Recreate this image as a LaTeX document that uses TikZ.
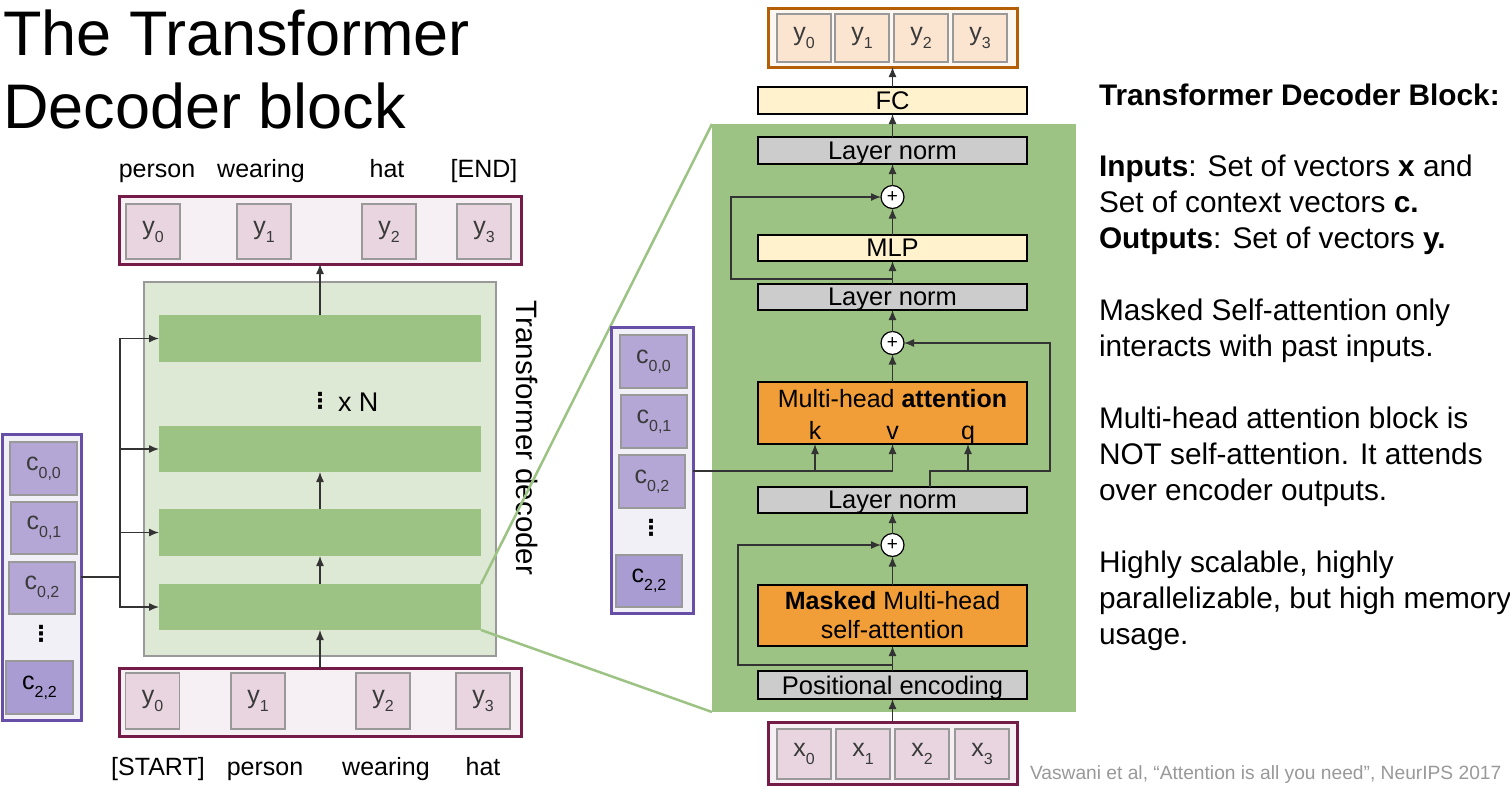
\documentclass[tikz,border=0pt]{standalone}
\usepackage{fontspec}
\setmainfont{Liberation Sans}
\newfontfamily\dvfont{DejaVu Sans}
\usetikzlibrary{arrows.meta}
\definecolor{maroon}{HTML}{741B47}
\definecolor{pinkfill}{HTML}{E8D5E0}
\definecolor{pinkbg}{HTML}{F6EFF3}
\definecolor{purp}{HTML}{674EA7}
\definecolor{purpfill}{HTML}{B4A7D6}
\definecolor{purpdark}{HTML}{A99CD2}
\definecolor{purpbg}{HTML}{F2F0F7}
\definecolor{brownor}{HTML}{B45F06}
\definecolor{orfill}{HTML}{FBE5D0}
\definecolor{orbg}{HTML}{FDF7F1}
\definecolor{grn}{HTML}{9CC383}
\definecolor{grnlight}{HTML}{DDE9D5}
\definecolor{yel}{HTML}{FFF2CC}
\definecolor{lngray}{HTML}{CCCCCC}
\definecolor{attor}{HTML}{F19E38}
\definecolor{boxgray}{HTML}{999999}
\definecolor{txtgray}{HTML}{3A3A3A}
\definecolor{lin}{HTML}{333333}
\newcommand{\fsz}[1]{\fontsize{#1}{#1}\selectfont}
\newcommand{\sbs}[1]{\raisebox{-0.32em}{\fontsize{16}{16}\selectfont #1}}
\tikzset{
  base/.style={inner sep=0pt, outer sep=0pt},
  outerM/.style={base, draw=maroon, line width=3pt, fill=pinkbg},
  outerO/.style={base, draw=brownor, line width=3pt, fill=orbg},
  outerP/.style={base, draw=purp, line width=3pt, fill=purpbg},
  pinkbox/.style={base, draw=boxgray, line width=1.2pt, fill=pinkfill, text=txtgray, font=\fsz{25}, minimum width=54pt},
  orbox/.style={base, draw=boxgray, line width=1.2pt, fill=orfill, text=txtgray, font=\fsz{25}, minimum width=54pt, minimum height=48pt},
  cbox/.style={base, draw=boxgray, line width=1.2pt, fill=purpfill, text=txtgray, font=\fsz{25}},
  bar/.style={base, fill=grn, minimum width=322pt},
  layer/.style={base, draw=black, line width=1.3pt, font=\fsz{25.5}, minimum width=269pt, text depth=0pt},
  plus/.style={base, circle, draw=black, line width=1.2pt, fill=white, minimum size=23pt, font=\fsz{19}},
  arr/.style={-{Latex[length=10pt,width=8pt]}, line width=1.3pt, draw=lin},
  ln/.style={line width=1.3pt, draw=lin},
  word/.style={base, anchor=base, font=\fsz{25}},
  rt/.style={base, anchor=base west, font=\fsz{29.8}},
  zoomline/.style={draw=grn, line width=2.5pt},
  vd/.style={base, font=\dvfont\bfseries\fsz{22}}
}
\begin{document}
\begin{tikzpicture}[x=1pt,y=-1pt]
\useasboundingbox (0,0) rectangle (1510,788);
\fill[white] (0,0) rectangle (1510,788);

% ---------- title ----------
\node[base, anchor=base west, font=\fsz{63}] (title1) at (3,55) {The Transformer};
\node[base, anchor=base west, font=\fsz{63}] (title2) at (3,128) {Decoder block};

% ---------- left: decoder stack ----------
\node[base, draw=boxgray, line width=1.5pt, fill=grnlight, minimum width=352pt, minimum height=374pt] (dec) at (320,469) {};
\node[bar, minimum height=47pt] (bar1) at (320,338.5) {};
\node[bar, minimum height=46pt] (bar2) at (320,449) {};
\node[bar, minimum height=47pt] (bar3) at (320,532.5) {};
\node[bar, minimum height=46pt] (bar4) at (320,607) {};
\node[vd] (xdots) at (320,401) {⋮};
\node[base, font=\fsz{27}, anchor=west] (xN) at (338,402) {x N};

% output tokens
\node[outerM, minimum width=402pt, minimum height=68pt] (outL) at (320,230) {};
\foreach \i/\x in {0/153,1/264,2/389,3/484}
  \node[pinkbox, minimum height=55pt] (yo\i) at (\x,231.5) {y\sbs{\i}};
\node[word] (w1) at (157,177) {person};
\node[word] (w2) at (261,177) {wearing};
\node[word] (w3) at (387,177) {hat};
\node[word] (w4) at (484,177) {[END]};

% input tokens
\node[outerM, minimum width=402pt, minimum height=68pt] (inL) at (320,702) {};
\foreach \i/\x in {0/152.5,1/258,2/383,3/483}
  \node[pinkbox, minimum height=56pt] (yi\i) at (\x,701) {y\sbs{\i}};
\node[word] (b1) at (158,775) {[START]};
\node[word] (b2) at (265,775) {person};
\node[word] (b3) at (386,775) {wearing};
\node[word] (b4) at (483,775) {hat};

% arrows in stack
\draw[arr] (bar1.north) -- (outL.south);
\draw[arr] (bar3.north) -- (bar2.south);
\draw[arr] (bar4.north) -- (bar3.south);
\draw[arr] (inL.north) -- (bar4.south);

% left context column
\node[outerP, minimum width=79pt, minimum height=286pt] (colL) at (41.5,577) {};
\node[cbox, minimum width=67pt, minimum height=53pt] (cl00) at (43.5,468.5) {c\sbs{0,0}};
\node[cbox, minimum width=66pt, minimum height=52pt] (cl01) at (44,528) {c\sbs{0,1}};
\node[cbox, minimum width=66pt, minimum height=52pt] (cl02) at (42,588) {c\sbs{0,2}};
\node[vd] (cldots) at (41,634) {⋮};
\node[cbox, fill=purpdark, text=black, minimum width=67pt, minimum height=53pt] (cl22) at (39.5,687.5) {c\sbs{2,2}};

\coordinate (jL) at (120,577);
\draw[ln] (colL.east |- jL) -- (jL);
\draw[arr] (jL) |- (bar1.west);
\draw[arr] (jL) |- (bar2.west);
\draw[arr] (jL) |- (bar3.west);
\draw[arr] (jL) |- (bar4.west);

\node[base, rotate=-90, font=\fsz{29.5}] (declabel) at (527,438) {Transformer decoder};

% ---------- right: detailed block ----------
\node[base, fill=grn, minimum width=364pt, minimum height=588pt] (panel) at (894,418) {};

\draw[zoomline] (bar4.north east) -- (panel.north west);
\draw[zoomline] (bar4.south east) -- (panel.south west);

\node[outerO, minimum width=249pt, minimum height=59pt] (outR) at (892.5,37.5) {};
\foreach \i/\x in {0/804,1/862,2/921,3/980}
  \node[orbox] (yr\i) at (\x,38) {y\sbs{\i}};

\node[layer, fill=yel, minimum height=27pt] (FC) at (892.5,100.5) {FC};
\node[layer, fill=lngray, minimum height=27pt] (LN1) at (892.5,150.5) {Layer norm};
\node[plus] (p1) at (892.5,197) {+};
\node[layer, fill=yel, minimum height=26pt] (MLP) at (892.5,248) {MLP};
\node[layer, fill=lngray, minimum height=26pt] (LN2) at (892.5,297) {Layer norm};
\node[plus] (p2) at (892.5,343) {+};
\node[layer, fill=attor, minimum height=62pt] (MHA) at (892.5,413) {};
\node[base, anchor=base, font=\fsz{25}] (mhaT) at (892.5,407) {Multi-head \textbf{attention}};
\node[base, anchor=base, font=\fsz{25}] (kL) at (815,439) {k};
\node[base, anchor=base, font=\fsz{25}] (vL) at (892.5,439) {v};
\node[base, anchor=base, font=\fsz{25}] (qL) at (968,439) {q};
\node[layer, fill=lngray, minimum height=26pt] (LN3) at (892.5,500) {Layer norm};
\node[plus] (p3) at (892.5,545) {+};
\node[layer, fill=attor, minimum height=61pt, align=center, text depth=, font=\fontsize{25}{29}\selectfont] (MMHA) at (892.5,615.5) {\textbf{Masked} Multi-head\\self-attention};
\node[layer, fill=lngray, minimum height=28pt] (PE) at (892.5,685) {Positional encoding};

\node[outerM, minimum width=249pt, minimum height=62pt] (inR) at (892.5,753) {};
\foreach \i/\x in {0/804,1/863,2/922,3/982}
  \node[pinkbox, minimum height=50pt] (xr\i) at (\x,754) {x\sbs{\i}};

% right context column
\node[outerP, minimum width=82pt, minimum height=286pt] (colR) at (652,470) {};
\node[cbox, minimum width=67pt, minimum height=53pt] (cr00) at (653.5,361.5) {c\sbs{0,0}};
\node[cbox, minimum width=66pt, minimum height=53pt] (cr01) at (654,421.5) {c\sbs{0,1}};
\node[cbox, minimum width=66pt, minimum height=53pt] (cr02) at (652,481.5) {c\sbs{0,2}};
\node[vd] (crdots) at (651,528) {⋮};
\node[cbox, fill=purpdark, text=black, minimum width=66pt, minimum height=52pt] (cr22) at (649,581) {c\sbs{2,2}};

% flow arrows
\draw[arr] (inR.north) -- (PE.south);
\draw[arr] (PE.north) -- (MMHA.south);
\draw[arr] (MMHA.north) -- (p3.south);
\draw[arr] (p3.north) -- (LN3.south);
\coordinate (s3) at (892.5,665);
\coordinate (s3l) at (738,665);
\draw[arr] (s3) -- (s3l) |- (p3.west);

\coordinate (q0) at (930,487);
\coordinate (q1) at (930,471);
\coordinate (qR) at (1050,471);
\coordinate (qx) at (968,471);
\draw[arr] (q0) -- (q1) -- (qR) |- (p2.east);
\draw[arr] (qx) -- (qx |- MHA.south);

\coordinate (kx) at (815,471);
\coordinate (vx) at (892.5,471);
\draw[ln] (colR.east |- vx) -- (vx);
\draw[arr] (kx) -- (kx |- MHA.south);
\draw[arr] (vx) -- (MHA.south);

\draw[arr] (MHA.north) -- (p2.south);
\draw[arr] (p2.north) -- (LN2.south);
\draw[arr] (LN2.north) -- (MLP.south);
\coordinate (s2) at (892.5,279);
\coordinate (s2l) at (731,279);
\draw[arr] (s2) -- (s2l) |- (p1.west);
\draw[arr] (MLP.north) -- (p1.south);
\draw[arr] (p1.north) -- (LN1.south);
\draw[arr] (LN1.north) -- (FC.south);
\draw[arr] (FC.north) -- (outR.south);

% ---------- right text ----------
\node[rt] (t0) at (1099,105) {\textbf{Transformer Decoder Block:}};
\node[rt] (t1) at (1099,176) {\textbf{Inputs}: Set of vectors \textbf{x} and};
\node[rt] (t2) at (1099,212) {Set of context vectors \textbf{c.}};
\node[rt] (t3) at (1099,248) {\textbf{Outputs}: Set of vectors \textbf{y.}};
\node[rt] (t4) at (1099,320) {Masked Self-attention only};
\node[rt] (t5) at (1099,356) {interacts with past inputs.};
\node[rt] (t6) at (1099,428) {Multi-head attention block is};
\node[rt] (t7) at (1099,464) {NOT self-attention. It attends};
\node[rt] (t8) at (1099,500) {over encoder outputs.};
\node[rt] (t9) at (1099,572) {Highly scalable, highly};
\node[rt] (t10) at (1099,608) {parallelizable, but high memory};
\node[rt] (t11) at (1099,644) {usage.};

\node[base, anchor=base west, font=\fsz{19.2}, text=boxgray] (cite) at (1030,779) {Vaswani et al, “Attention is all you need”, NeurIPS 2017};
\end{tikzpicture}
\end{document}
